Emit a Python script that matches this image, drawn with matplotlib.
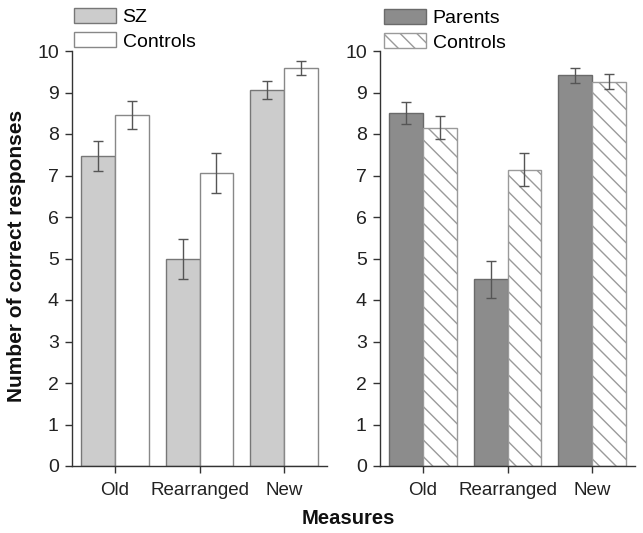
import matplotlib
matplotlib.use("Agg")
import matplotlib.pyplot as plt
import numpy as np

plt.rcParams['font.family'] = ['Liberation Sans', 'DejaVu Sans']
plt.rcParams['hatch.color'] = '#9a9a9a'
plt.rcParams['hatch.linewidth'] = 1.0

categories = ["Old", "Rearranged", "New"]
sz_vals = [7.47, 4.99, 9.06]
sz_err = [0.36, 0.48, 0.22]
ctrl1_vals = [8.46, 7.06, 9.59]
ctrl1_err = [0.34, 0.48, 0.17]
par_vals = [8.50, 4.50, 9.41]
par_err = [0.26, 0.45, 0.18]
ctrl2_vals = [8.15, 7.14, 9.26]
ctrl2_err = [0.28, 0.40, 0.18]
yticks = list(range(0, 11))

W, H = 643, 533
fig = plt.figure(figsize=(W / 100, H / 100), dpi=100)

def ax_rect(x0, x1, ytop, ybot):
    return [x0 / W, 1 - ybot / H, (x1 - x0) / W, (ybot - ytop) / H]

axL = fig.add_axes(ax_rect(72, 327, 51, 466))
axR = fig.add_axes(ax_rect(380, 635, 51, 466))

x = np.arange(len(categories))
bw = 0.4
ekw = dict(ecolor='#555555', elinewidth=1.0, capsize=3.5, capthick=1.0)

def style(ax):
    ax.set_xlim(-0.51, 2.51)
    ax.set_ylim(0, 10)
    ax.set_yticks(yticks)
    ax.set_xticks(x)
    ax.set_xticklabels(categories, fontsize=13.5, color='#222222')
    ax.tick_params(axis='y', labelsize=14, labelcolor='#222222', length=5, color='#333333',
                   width=1, pad=4.5)
    ax.tick_params(axis='x', length=5, color='#333333', width=1, pad=6.5)
    for s in ['top', 'right']:
        ax.spines[s].set_visible(False)
    for s in ['left', 'bottom']:
        ax.spines[s].set_color('#333333')
        ax.spines[s].set_linewidth(1.0)

b1 = axL.bar(x - bw / 2, sz_vals, bw, color='#cccccc', edgecolor='#777777', linewidth=1.0,
             yerr=sz_err, error_kw=ekw, label='SZ')
b2 = axL.bar(x + bw / 2, ctrl1_vals, bw, color='white', edgecolor='#888888', linewidth=1.0,
             yerr=ctrl1_err, error_kw=ekw, label='Controls')
b3 = axR.bar(x - bw / 2, par_vals, bw, color='#8c8c8c', edgecolor='#6a6a6a', linewidth=1.0,
             yerr=par_err, error_kw=ekw, label='Parents')
b4 = axR.bar(x + bw / 2, ctrl2_vals, bw, color='white', edgecolor='#9a9a9a', linewidth=1.0,
             hatch='\\\\', yerr=ctrl2_err, error_kw=ekw, label='Controls')
style(axL)
style(axR)

legkw = dict(loc='upper left', frameon=False, fontsize=14, borderpad=0, borderaxespad=0,
             handlelength=2.15, handleheight=0.8, handletextpad=0.35, labelspacing=0.32)
fig.legend([b1, b2], ['SZ', 'Controls'], bbox_to_anchor=(74 / W, 1 - 8 / H), **legkw)
fig.legend([b3, b4], ['Parents', 'Controls'], bbox_to_anchor=(384 / W, 1 - 9 / H), **legkw)

fig.text(17 / W, 1 - 256 / H, 'Number of correct responses', rotation=90, fontsize=15,
         fontweight='bold', ha='center', va='center', color='#111111')
fig.text(348 / W, 1 - 518 / H, 'Measures', fontsize=14.6, fontweight='bold',
         ha='center', va='center', color='#111111')

fig.savefig('out.png', dpi=100)
